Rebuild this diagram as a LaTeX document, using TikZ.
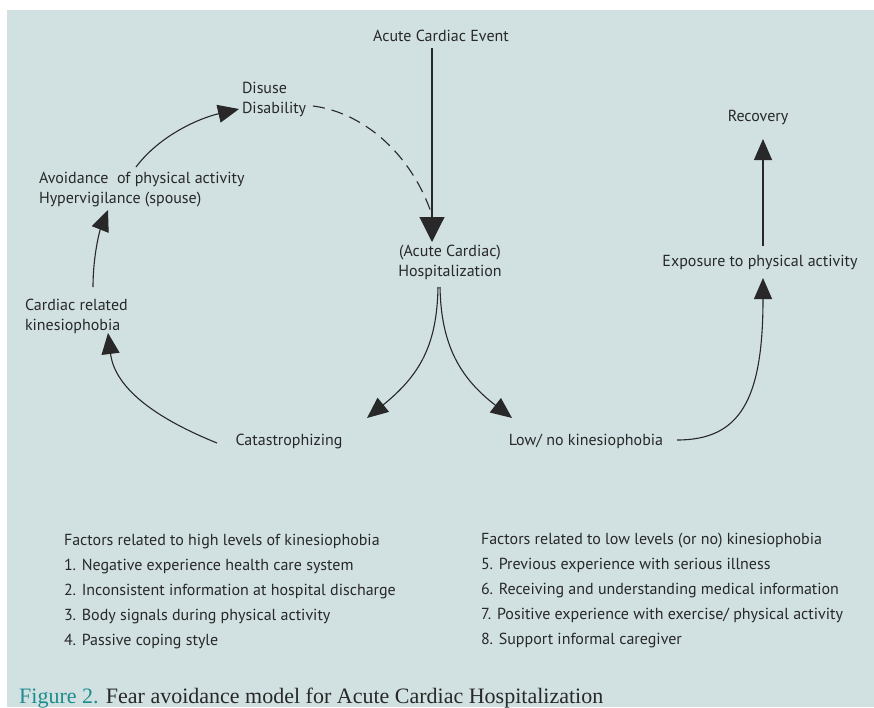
\documentclass[tikz,border=0pt]{standalone}
\usepackage{fontspec}
\setmainfont{PT Sans}
\newfontfamily\capfont{Liberation Serif}
\usetikzlibrary{arrows.meta,calc}
\definecolor{panel}{RGB}{209,225,226}
\definecolor{ink}{RGB}{40,40,40}
\definecolor{figteal}{RGB}{30,140,140}
\begin{document}
\begin{tikzpicture}[x=1pt,y=-1pt,
  lbl/.style={inner sep=0pt,outer sep=0pt,text=ink,font=\fontsize{16}{20}\selectfont},
  lst/.style={inner sep=0pt,outer sep=0pt,text=ink,align=left,font=\fontsize{16}{25}\selectfont},
  link/.style={draw=ink,line width=1.1pt},
  arr/.style={link,-{Triangle[length=21pt,width=18pt]}},
  bigarr/.style={link,-{Triangle[length=25pt,width=25pt]}}]
\useasboundingbox (0,0) rectangle (874,707);
\fill[panel] (7,10) rectangle (874,707);

% labels
\node[lbl] (event) at (441,36) {Acute Cardiac Event};
\node[lbl,align=center] (hosp) at (450,262) {(Acute Cardiac)\\Hospitalization};
\node[lbl,align=left,anchor=west] (dis) at (242,99) {Disuse\\Disability};
\node[lbl,align=left,anchor=west] (avoid) at (39,190) {Avoidance\ \ of physical activity\\Hypervigilance (spouse)};
\node[lbl,align=left,anchor=west] (kin) at (25,316) {Cardiac related\\kinesiophobia};
\node[lbl] (cat) at (289,441) {Catastrophizing};
\node[lbl] (low) at (586,441) {Low/ no kinesiophobia};
\node[lbl] (expo) at (760,262) {Exposure to physical activity};
\node[lbl] (rec) at (758,117) {Recovery};

% factor lists
\node[lst,anchor=west] (high) at (64,592) {Factors related to high levels of kinesiophobia\\
1. Negative experience health care system\\
2. Inconsistent information at hospital discharge\\
3. Body signals during physical activity\\
4. Passive coping style};
\node[lst,anchor=west] (lowf) at (481,590) {Factors related to low levels (or no) kinesiophobia\\
5. Previous experience with serious illness\\
6. Receiving and understanding medical information\\
7. Positive experience with exercise/ physical activity\\
8. Support informal caregiver};

% caption
\node[inner sep=0pt,anchor=base west,font=\capfont\fontsize{22}{25}\selectfont,text=ink] (cap) at (19,703)
  {\textcolor{figteal}{Figure 2.} Fear avoidance model for Acute Cardiac Hospitalization};

% connectors
\draw[bigarr] ($(event.center)+(-9,12)$) -- ($(hosp.center)+(-18,-20)$);
\draw[arr] ($(hosp.center)+(-12,25)$) .. controls +(-1,58) and +(53,-43) .. ($(cat.center)+(78,-23)$);
\draw[arr] ($(hosp.center)+(-10,25)$) .. controls +(1,58) and +(-52,-40) .. ($(low.center)+(-74,-23)$);
\draw[arr] ($(low.center)+(91,-1)$) .. controls +(63,0) and +(0,122) .. ($(expo.center)+(3,16)$);
\draw[arr] ($(expo.center)+(3,-16)$) -- ($(rec.center)+(5,22)$);
\draw[arr] ($(cat.center)+(-72,2)$) .. controls +(-57,-23) and +(7,57) .. ($(kin.west)+(83,17)$);
\draw[arr] ($(kin.west)+(68,-29)$) .. controls +(0,-32) and +(-8,20) .. ($(avoid.west)+(69,20)$);
\draw[arr] ($(avoid.west)+(97,-23)$) .. controls +(24,-32) and +(-39,9) .. ($(dis.west)+(-3,10)$);
\draw[link,dash pattern=on 12pt off 7pt] ($(dis.west)+(71,7)$) .. controls +(47,6) and +(-22,-65) .. ($(hosp.center)+(-18,-47)$);
\end{tikzpicture}
\end{document}
